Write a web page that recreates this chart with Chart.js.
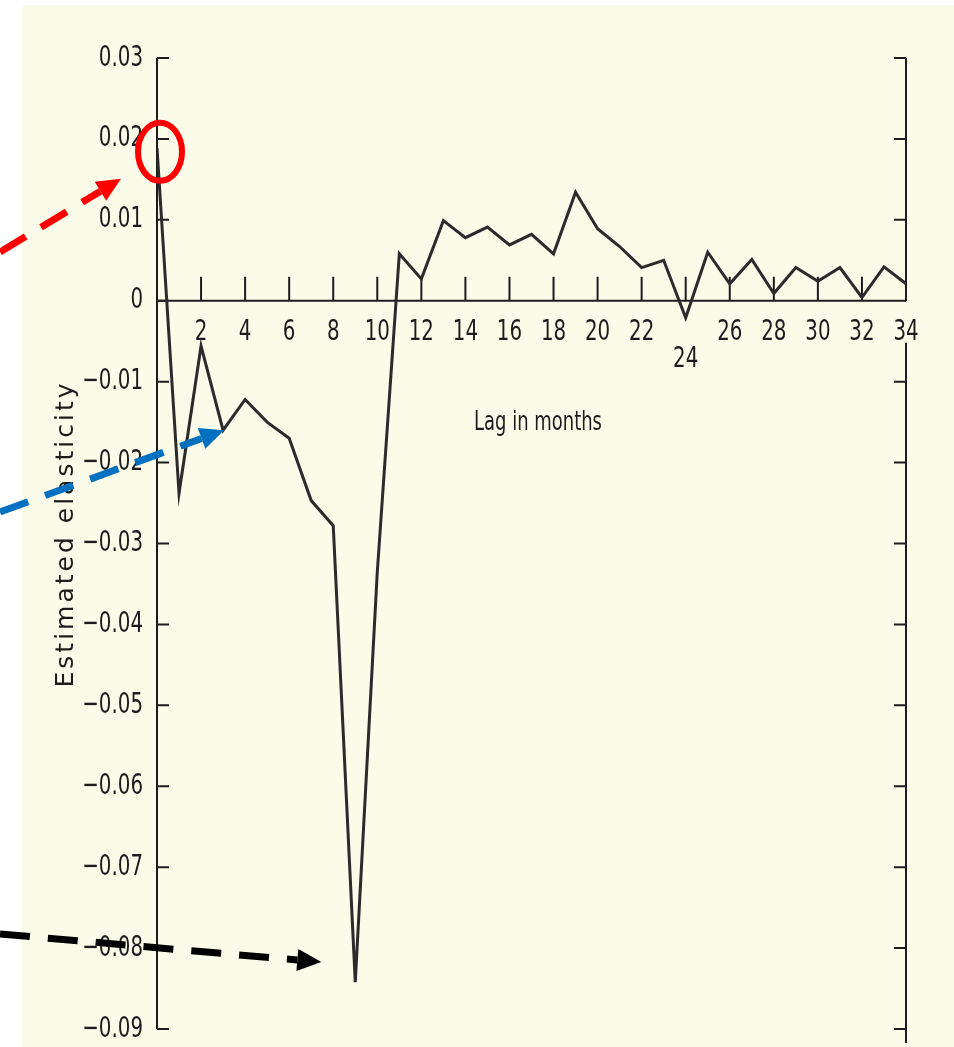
<!DOCTYPE html>
<html>
<head>
<meta charset="utf-8">
<title>Estimated elasticity by lag</title>
<script src="https://cdn.jsdelivr.net/npm/chart.js@4.4.1/dist/chart.umd.min.js"></script>
<style>
  html, body { margin: 0; padding: 0; background: #ffffff; }
  #wrap { width: 954px; height: 1047px; }
</style>
</head>
<body>
<div id="wrap"><canvas id="chart" width="954" height="1047"></canvas></div>
<script>
// values
const lags = [0, 1, 2, 3, 4, 5, 6, 7, 8, 9, 10, 11, 12, 13, 14, 15, 16, 17,
  18, 19, 20, 21, 22, 23, 24, 25, 26, 27, 28, 29, 30, 31, 32, 33, 34];
const elasticity = [0.0189, -0.0238, -0.0056, -0.0160, -0.0122, -0.0150, -0.0170,
  -0.0247, -0.0278, -0.0842, -0.0335, 0.0058, 0.0027, 0.0099, 0.0078, 0.0091,
  0.0069, 0.0082, 0.0058, 0.0134, 0.0089, 0.0067, 0.0041, 0.0050, -0.0021,
  0.0060, 0.0021, 0.0051, 0.0009, 0.0041, 0.0024, 0.0041, 0.0004, 0.0042, 0.0021];
const xTicks = [2, 4, 6, 8, 10, 12, 14, 16, 18, 20, 22, 24, 26, 28, 30, 32, 34];
const droppedXTicks = [24];
const yTicks = [0.03, 0.02, 0.01, 0, -0.01, -0.02, -0.03, -0.04, -0.05, -0.06, -0.07, -0.08, -0.09];
const xTitle = "Lag in months";
const yTitle = "Estimated elasticity";

const paper = "#fbfbea";
const ink = "#1c1c1c";
const narrow = '"Liberation Sans Narrow", "Arial Narrow", "DejaVu Sans Condensed", sans-serif';

function yLabel(v) {
  if (v === 0) return "0";
  return v.toFixed(2).replace("-", "\u2212");
}

function squeezeText(ctx, text, x, y, sx) {
  ctx.save();
  ctx.translate(x, y);
  ctx.scale(sx, 1);
  ctx.fillText(text, 0, 0);
  ctx.restore();
}

function drawAxes(chart) {
  const ctx = chart.ctx;
  const area = chart.chartArea;
  const xs = chart.scales.x;
  const ys = chart.scales.y;
  const y0 = ys.getPixelForValue(0);

  ctx.save();
  ctx.strokeStyle = ink;
  ctx.fillStyle = ink;
  ctx.lineWidth = 2;

  // left axis + inward ticks
  ctx.beginPath();
  ctx.moveTo(area.left, area.top);
  ctx.lineTo(area.left, area.bottom);
  yTicks.forEach(v => {
    const y = ys.getPixelForValue(v);
    ctx.moveTo(area.left, y);
    ctx.lineTo(area.left + 12, y);
  });
  ctx.stroke();

  // right axis, broken where the "34" label sits
  ctx.beginPath();
  ctx.moveTo(area.right, area.top);
  ctx.lineTo(area.right, y0);
  ctx.moveTo(area.right, y0 + 42);
  ctx.lineTo(area.right, area.bottom + 14);
  yTicks.forEach(v => {
    const y = ys.getPixelForValue(v);
    if (v === 0) return;
    ctx.moveTo(area.right, y);
    ctx.lineTo(area.right - 12, y);
  });
  ctx.stroke();

  // zero line with upward ticks
  ctx.beginPath();
  ctx.moveTo(area.left, y0);
  ctx.lineTo(area.right, y0);
  xTicks.forEach(t => {
    const x = xs.getPixelForValue(t);
    ctx.moveTo(x, y0);
    ctx.lineTo(x, y0 - 24);
  });
  ctx.stroke();

  ctx.font = "29px " + narrow;
  ctx.textAlign = "right";
  ctx.textBaseline = "middle";
  yTicks.forEach(v => {
    squeezeText(ctx, yLabel(v), area.left - 14, ys.getPixelForValue(v), 0.76);
  });

  ctx.textAlign = "center";
  ctx.textBaseline = "top";
  xTicks.forEach(t => {
    const dy = droppedXTicks.includes(t) ? 44 : 17;
    squeezeText(ctx, String(t), xs.getPixelForValue(t), y0 + dy, 0.76);
  });

  ctx.font = "27px " + narrow;
  ctx.textBaseline = "middle";
  squeezeText(ctx, xTitle, 538, 423, 0.74);

  ctx.font = "25px 'DejaVu Sans', sans-serif";
  ctx.letterSpacing = "3px";
  ctx.translate(66, 534);
  ctx.rotate(-Math.PI / 2);
  ctx.fillText(yTitle, 0, 0);
  ctx.restore();
}

function drawArrow(ctx, x0, y0, x1, y1, color) {
  const ang = Math.atan2(y1 - y0, x1 - x0);
  const head = 24, half = 11;
  const bx = x1 - head * Math.cos(ang);
  const by = y1 - head * Math.sin(ang);
  ctx.save();
  ctx.strokeStyle = color;
  ctx.fillStyle = color;
  ctx.lineWidth = 7;
  ctx.setLineDash([30, 18]);
  ctx.beginPath();
  ctx.moveTo(x0, y0);
  ctx.lineTo(bx, by);
  ctx.stroke();
  ctx.setLineDash([]);
  ctx.beginPath();
  ctx.moveTo(x1, y1);
  ctx.lineTo(bx + half * Math.sin(ang), by - half * Math.cos(ang));
  ctx.lineTo(bx - half * Math.sin(ang), by + half * Math.cos(ang));
  ctx.closePath();
  ctx.fill();
  ctx.restore();
}

function drawMarkers(chart) {
  const ctx = chart.ctx;
  const pts = chart.getDatasetMeta(0).data;
  const p0 = pts[0], p3 = pts[3], p9 = pts[9];

  ctx.save();
  ctx.strokeStyle = "#ff0000";
  ctx.lineWidth = 6;
  ctx.beginPath();
  ctx.ellipse(p0.x + 3, p0.y + 4, 22, 29, 0, 0, Math.PI * 2);
  ctx.stroke();
  ctx.restore();

  drawArrow(ctx, 0, 252, p0.x - 36, p0.y + 31, "#ff0000");
  drawArrow(ctx, 0, 512, p3.x + 1, p3.y, "#0070c0");
  drawArrow(ctx, 0, 934, p9.x - 34, p9.y - 20, "#000000");
}

const paperPlugin = {
  id: "paper",
  beforeDraw(chart) {
    const ctx = chart.ctx;
    ctx.save();
    ctx.fillStyle = "#ffffff";
    ctx.fillRect(0, 0, chart.width, chart.height);
    ctx.fillStyle = paper;
    ctx.fillRect(22, 5, chart.width - 22, chart.height - 5);
    ctx.restore();
  },
  beforeDatasetsDraw(chart) {
    drawAxes(chart);
  },
  afterDraw(chart) {
    drawMarkers(chart);
  }
};

new Chart(document.getElementById("chart").getContext("2d"), {
  type: "line",
  data: {
    datasets: [{
      data: lags.map((l, i) => ({ x: l, y: elasticity[i] })),
      borderColor: "#2b2b2b",
      borderWidth: 3,
      pointRadius: 0,
      tension: 0,
      fill: false
    }]
  },
  options: {
    responsive: false,
    animation: false,
    layout: { padding: { left: 157, right: 48, top: 58, bottom: 18 } },
    scales: {
      x: { type: "linear", min: 0, max: 34, display: false },
      y: { min: -0.09, max: 0.03, display: false }
    },
    plugins: {
      legend: { display: false },
      tooltip: { enabled: false }
    }
  },
  plugins: [paperPlugin]
});
</script>
</body>
</html>
